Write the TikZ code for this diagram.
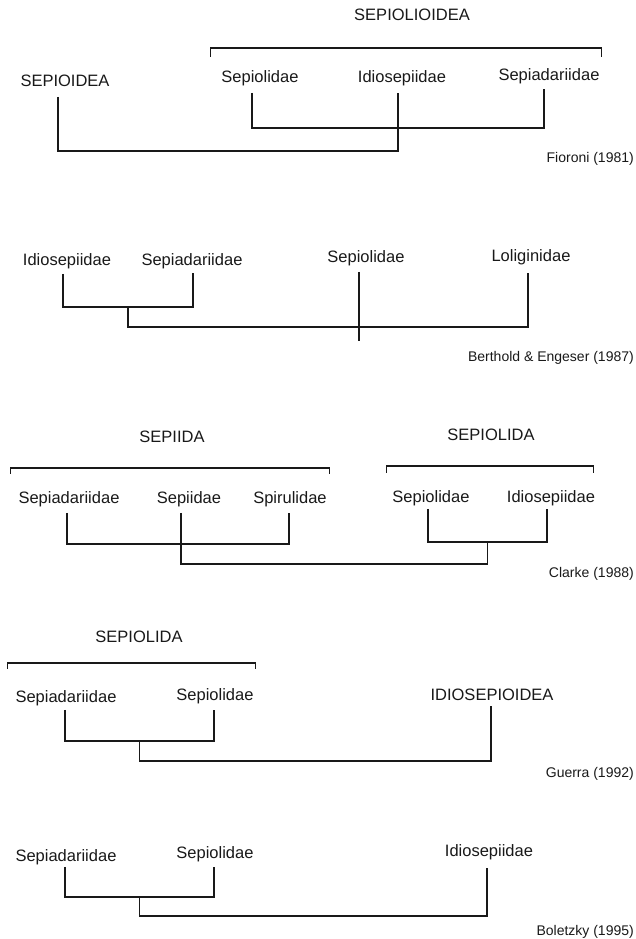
\documentclass[tikz,border=0pt]{standalone}
\usepackage{fontspec}
\setmainfont{Liberation Sans}
\usetikzlibrary{calc}
\newcommand{\taxfont}{\fontsize{16.5}{18}\selectfont}
\newcommand{\reffont}{\fontsize{14}{16}\selectfont}

\begin{document}
\begin{tikzpicture}[x=1pt,y=1pt]
  \tikzstyle{taxon}=[font=\taxfont,text=black!90,anchor=base,inner sep=0pt]
  \tikzstyle{source}=[font=\reffont,text=black!90,anchor=base east,inner sep=0pt]
  \tikzstyle{branch}=[draw=black!90,line width=1.1pt]
  \useasboundingbox (0,0) rectangle (636,939);

  % Fioroni (1981)
  \node[taxon] (fa) at (412,918) {SEPIOLIOIDEA};
  \node[taxon] (fb) at (65,852) {SEPIOIDEA};
  \node[taxon] (fc) at (260,856) {Sepiolidae};
  \node[taxon] (fd) at (402,856) {Idiosepiidae};
  \node[taxon] (fe) at (549,858) {Sepiadariidae};
  \node[source] (fref) at (634,776) {Fioroni (1981)};
  \draw[branch] ([xshift=-11pt,yshift=26pt]fc.base west) -- ++(0,9) -| ([xshift=2pt,yshift=24pt]fe.base east);
  \draw[branch] ([xshift=-8pt,yshift=-10pt]fc.base) -- ++(0,-35) -| ([xshift=-5pt,yshift=-8pt]fe.base);
  \draw[branch] ([xshift=-7pt,yshift=-10pt]fb.base) -- ++(0,-54) -| ([xshift=-4pt,yshift=-10pt]fd.base);

  % Berthold & Engeser (1987)
  \node[taxon] (ba) at (67,673) {Idiosepiidae};
  \node[taxon] (bb) at (192,673) {Sepiadariidae};
  \node[taxon] (bc) at (366,676) {Sepiolidae};
  \node[taxon] (bd) at (531,677) {Loliginidae};
  \node[source] (bref) at (634,577) {Berthold \& Engeser (1987)};
  \draw[branch] ([xshift=-4pt,yshift=-8pt]ba.base) -- ++(0,-33) coordinate (bj) -| ([xshift=1pt,yshift=-7pt]bb.base) coordinate (bk);
  \draw[branch] ($(bj)!.5!(bj-|bk)$) -- ++(0,-20) -| ([xshift=-3pt,yshift=-11pt]bd.base);
  \draw[branch] ([xshift=-7pt,yshift=-9pt]bc.base) -- ++(0,-69);

  % Clarke (1988)
  \node[taxon] (ca) at (172,496) {SEPIIDA};
  \node[taxon] (cb) at (491,498) {SEPIOLIDA};
  \node[taxon] (cc) at (69,435) {Sepiadariidae};
  \node[taxon] (cd) at (189,435) {Sepiidae};
  \node[taxon] (ce) at (290,435) {Spirulidae};
  \node[taxon] (cf) at (431,436) {Sepiolidae};
  \node[taxon] (cg) at (551,436) {Idiosepiidae};
  \node[source] (cref) at (634,361) {Clarke (1988)};
  \draw[branch] ([xshift=-8pt,yshift=30pt]cc.base west) -- ++(0,6) -| ([xshift=3pt,yshift=30pt]ce.base east);
  \draw[branch] ([xshift=-6pt,yshift=30pt]cf.base west) -- ++(0,7) -| ([xshift=-2pt,yshift=30pt]cg.base east);
  \draw[branch] ([xshift=-2pt,yshift=-9pt]cc.base) -- ++(0,-31) -| ([xshift=-1pt,yshift=-9pt]ce.base);
  \draw[branch] ([xshift=-3pt,yshift=-6pt]cf.base) -- ++(0,-33) coordinate (cj) -| ([xshift=-4pt,yshift=-6pt]cg.base) coordinate (ck);
  \draw[branch] ([xshift=-8pt,yshift=-9pt]cd.base) -- ++(0,-51) -| ($(cj)!.5!(cj-|ck)$);

  % Guerra (1992)
  \node[taxon] (ga) at (139,296) {SEPIOLIDA};
  \node[taxon] (gb) at (66,236) {Sepiadariidae};
  \node[taxon] (gc) at (215,238) {Sepiolidae};
  \node[taxon] (gd) at (492,238) {IDIOSEPIOIDEA};
  \node[source] (gref) at (634,161) {Guerra (1992)};
  \draw[branch] ([xshift=-8pt,yshift=34pt]gb.base west) -- ++(0,6) -| ([xshift=2pt,yshift=32pt]gc.base east);
  \draw[branch] ([xshift=-1pt,yshift=-7pt]gb.base) -- ++(0,-31) coordinate (gj) -| ([xshift=-1pt,yshift=-9pt]gc.base) coordinate (gk);
  \draw[branch] ($(gj)!.5!(gj-|gk)$) -- ++(0,-20) -| ([xshift=-1pt,yshift=-5pt]gd.base);

  % Boletzky (1995)
  \node[taxon] (la) at (66,77) {Sepiadariidae};
  \node[taxon] (lb) at (215,80) {Sepiolidae};
  \node[taxon] (lc) at (489,82) {Idiosepiidae};
  \node[source] (lref) at (634,4) {Boletzky (1995)};
  \draw[branch] ([xshift=-1pt,yshift=-5pt]la.base) -- ++(0,-30) coordinate (lj) -| ([xshift=-1pt,yshift=-8pt]lb.base) coordinate (lk);
  \draw[branch] ($(lj)!.5!(lj-|lk)$) -- ++(0,-19) -| ([xshift=-2pt,yshift=-11pt]lc.base);
\end{tikzpicture}
\end{document}
